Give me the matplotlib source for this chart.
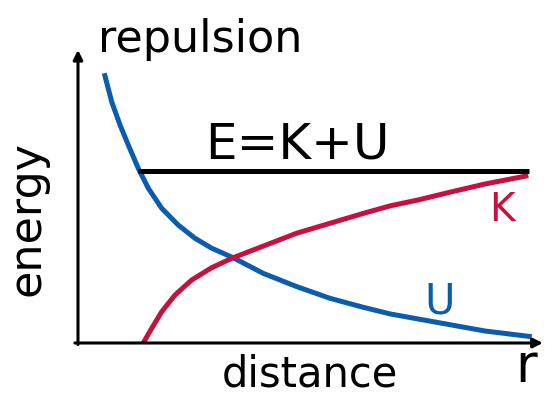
import matplotlib.pyplot as plt

# potential energy U(r) and kinetic energy K(r), E = K + U is constant
u_r = [0.584, 0.749, 0.933, 1.118, 1.340, 1.562, 1.860, 2.229, 2.600, 2.971,
       3.451, 4.118, 4.860, 5.600, 6.340, 6.933, 7.562, 8.304, 9.044, 10.082]
u_val = [8.99, 8.04, 7.27, 6.60, 5.82, 5.16, 4.49, 3.93, 3.49, 3.16,
         2.84, 2.32, 1.88, 1.49, 1.19, 0.97, 0.80, 0.60, 0.40, 0.21]

k_r = [1.451, 1.638, 1.860, 2.156, 2.527, 2.971, 3.444, 4.118, 4.860, 5.600,
       6.340, 6.933, 7.562, 8.304, 9.044, 10.007]
k_val = [0.0, 0.49, 1.04, 1.60, 2.10, 2.51, 2.84, 3.23, 3.66, 3.99,
         4.32, 4.57, 4.77, 5.04, 5.30, 5.58]

e_r = [1.333, 10.02]
e_val = [5.73, 5.73]

BLUE = '#0b5cad'
RED = '#c8103e'

fig = plt.figure(figsize=(5.45, 3.94), dpi=100)
ax = fig.add_axes([0, 0, 1, 1])
ax.set_xlim(-1.733, 10.378)
ax.set_ylim(-1.7, 11.433)
ax.axis('off')

# axes drawn as arrows
arrow = dict(arrowstyle='-|>', color='black', lw=2.2, mutation_scale=14,
             shrinkA=0, shrinkB=0)
ax.annotate('', xy=(0, 9.77), xytext=(0, -0.05), arrowprops=arrow,
            annotation_clip=False)
ax.annotate('', xy=(10.33, 0), xytext=(-0.07, 0), arrowprops=arrow,
            annotation_clip=False)

ax.plot(u_r, u_val, color=BLUE, lw=3.6, solid_capstyle='butt')
ax.plot(k_r, k_val, color=RED, lw=3.6, solid_capstyle='butt')
ax.plot(e_r, e_val, color='black', lw=3.6, solid_capstyle='butt')

font = 'DejaVu Sans'
ax.text(2.71, 9.70, 'repulsion', fontsize=32, ha='center', va='baseline', family=font)
ax.text(4.87, 6.15, 'E=K+U', fontsize=36, ha='center', va='baseline', family=font)
ax.text(9.42, 4.07, 'K', fontsize=28, ha='center', va='baseline', color=RED, family=font)
ax.text(8.04, 0.97, 'U', fontsize=30, ha='center', va='baseline', color=BLUE, family=font)
ax.text(5.16, -1.45, 'distance', fontsize=30, ha='center', va='baseline', family=font)
ax.text(9.72, -1.66, 'r', fontsize=38, ha='left', va='bottom', family=font)
ax.text(-1.13, 4.15, 'energy', fontsize=32, ha='center', va='center', rotation=90, family=font)

fig.savefig('out.png', dpi=100)
